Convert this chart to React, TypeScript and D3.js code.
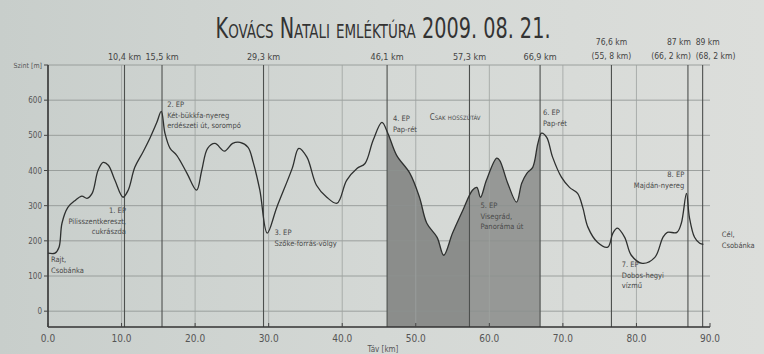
import React from 'react';
import * as d3 from 'd3';

// elevation profile (km, m)
const profileKm = [0, 0.95, 1.5, 1.9, 2.7, 3.7, 4.6, 5.3, 6.0, 6.8, 7.5, 8.2, 9.1, 10.2, 10.9, 11.8, 12.9, 13.9, 14.8, 15.4, 15.9, 16.6, 17.5, 18.9, 20.2, 20.9, 21.7, 22.7, 24.0, 25.1, 26.1, 27.2, 27.9, 28.8, 29.8, 31.1, 33.2, 34.1, 35.2, 36.5, 37.9, 39.3, 40.6, 42.0, 43.1, 44.2, 45.4, 46.2, 47.4, 49.2, 50.5, 51.5, 52.9, 53.8, 55.0, 56.4, 57.7, 58.3, 58.8, 59.6, 61.0, 61.4, 62.5, 63.7, 64.4, 65.1, 65.9, 66.6, 67.1, 67.8, 68.6, 69.8, 70.9, 72.0, 72.7, 73.4, 74.7, 76.1, 76.8, 77.4, 78.4, 79.3, 80.8, 82.5, 83.6, 84.2, 85.5, 86.1, 86.8, 87.2, 87.9, 88.6, 89.1];
const profileElev = [165, 165, 182, 250, 295, 315, 327, 321, 335, 400, 423, 415, 372, 324, 344, 409, 452, 494, 537, 568, 506, 463, 443, 392, 344, 400, 463, 477, 455, 477, 480, 466, 423, 344, 222, 295, 406, 463, 438, 358, 324, 307, 372, 406, 420, 486, 537, 506, 443, 392, 324, 250, 210, 159, 222, 287, 344, 352, 324, 372, 435, 429, 364, 310, 364, 392, 409, 477, 506, 494, 438, 381, 352, 335, 295, 239, 196, 182, 222, 236, 210, 159, 136, 153, 210, 224, 224, 250, 335, 267, 210, 193, 190];

const markerKm = [10.4, 15.5, 29.3, 46.1, 57.3, 66.9, 76.6, 87, 89];
const markerLabels = ['10,4 km', '15,5 km', '29,3 km', '46,1 km', '57,3 km', '66,9 km', '76,6 km', '87 km', '89 km'];
const markerSub = ['', '', '', '', '', '', '(55, 8 km)', '(66, 2 km)', '(68, 2 km)'];

const shortOnlyFrom = 46.1;
const shortOnlyMid = 57.3;
const shortOnlyTo = 66.9;

const yTicks = [0, 100, 200, 300, 400, 500, 600];
const gridY = [0, 100, 200, 300, 400, 500, 600, 700];
const xTicks = [0, 10, 20, 30, 40, 50, 60, 70, 80, 90];

const noteLines = [
  ['Rajt,', 'Csobánka'],
  ['1. EP', 'Pilisszentkereszt,', 'cukrászda'],
  ['2. EP', 'Két-bükkfa-nyereg', 'erdészeti út, sorompó'],
  ['3. EP', 'Szőke-forrás-völgy'],
  ['4. EP', 'Pap-rét'],
  ['5. EP', 'Visegrád,', 'Panoráma út'],
  ['6. EP', 'Pap-rét'],
  ['7. EP', 'Dobos-hegyi', 'vízmű'],
  ['8. EP', 'Majdán-nyereg'],
  ['Cél,', 'Csobánka'],
];
// where each note sits: [km, m, anchor]
const noteAt: [number, number, string][] = [
  [0.4, 139, 'start'],
  [10.6, 278, 'end'],
  [16.2, 580, 'start'],
  [30.8, 216, 'start'],
  [46.9, 540, 'start'],
  [58.8, 293, 'start'],
  [67.3, 557, 'start'],
  [78.0, 125, 'start'],
  [86.5, 381, 'end'],
  [91.6, 210, 'start'],
];

export default function App() {
  const W = 764, H = 354;
  const x = d3.scaleLinear().domain([0, 90]).range([48, 710]);
  const y = d3.scaleLinear().domain([-45, 700]).range([327, 65]);
  const pts = profileKm.map((k, i) => [k, profileElev[i]] as [number, number]);
  const line = d3.line<[number, number]>().x(d => x(d[0])).y(d => y(d[1])).curve(d3.curveCatmullRom.alpha(0.5));
  const area = d3.area<[number, number]>().x(d => x(d[0])).y0(y(-45)).y1(d => y(d[1])).curve(d3.curveCatmullRom.alpha(0.5));
  const font = '"DejaVu Sans Condensed", "Liberation Sans Narrow", sans-serif';
  const top = y(700), bot = y(-45);

  return (
    <svg width={W} height={H} style={{ position: 'absolute', left: 0, top: 0 }} fontFamily={font}>
      <defs>
        <linearGradient id="paper" x1="0" x2="1" y1="0" y2="0">
          <stop offset="0" stopColor="#c8cecb" />
          <stop offset="0.5" stopColor="#d4d8d5" />
          <stop offset="1" stopColor="#dcdedb" />
        </linearGradient>
        <clipPath id="c1"><rect x={x(shortOnlyFrom)} y={0} width={x(shortOnlyMid) - x(shortOnlyFrom)} height={H} /></clipPath>
        <clipPath id="c2"><rect x={x(shortOnlyMid)} y={0} width={x(shortOnlyTo) - x(shortOnlyMid)} height={H} /></clipPath>
      </defs>
      <rect width={W} height={H} fill="url(#paper)" />

      <g transform="translate(383,38) scale(1,1.4)">
        <text x={0} y={0} textAnchor="middle" fontSize={20} fill="#333" style={{ fontVariant: 'small-caps' }}
          textLength={335} lengthAdjust="spacingAndGlyphs">Kovács Natali emléktúra 2009. 08. 21.</text>
      </g>

      {/* shaded long-route section */}
      <path d={area(pts) || ''} fill="#8b8d8b" clipPath="url(#c1)" />
      <path d={area(pts) || ''} fill="#969896" clipPath="url(#c2)" />

      {/* grid */}
      {gridY.map(v => (
        <line key={'gy' + v} x1={x(0)} x2={x(90)} y1={y(v)} y2={y(v)} stroke="#8d928f" strokeWidth={0.8} />
      ))}
      {xTicks.slice(1, 9).map(v => (
        <line key={'gx' + v} x1={x(v)} x2={x(v)} y1={top} y2={bot} stroke="#9da29f" strokeWidth={0.8} />
      ))}
      {markerKm.map(k => (
        <line key={'m' + k} x1={x(k)} x2={x(k)} y1={top} y2={bot} stroke="#4d504e" strokeWidth={1.1} />
      ))}

      {/* marker labels */}
      {markerKm.map((k, i) => {
        const anchor = k === 87 ? 'end' : k === 89 ? 'start' : 'middle';
        const dx = k === 87 ? 3 : k === 89 ? -7 : 0;
        return markerSub[i] ? (
          <g key={'ml' + k} fontSize={8.5} fill="#444" textAnchor={anchor}>
            <text x={x(k) + dx} y={45}>{markerLabels[i]}</text>
            <text x={x(k) + dx} y={59}>{markerSub[i]}</text>
          </g>
        ) : (
          <text key={'ml' + k} x={x(k)} y={60} fontSize={9} fill="#444" textAnchor="middle">{markerLabels[i]}</text>
        );
      })}

      {/* profile */}
      <path d={line(pts) || ''} fill="none" stroke="#2e302f" strokeWidth={1.3} />

      {/* axes */}
      <line x1={x(0)} x2={x(0)} y1={top} y2={bot} stroke="#333" strokeWidth={1.6} />
      <line x1={x(0)} x2={x(90)} y1={bot} y2={bot} stroke="#333" strokeWidth={1.6} />
      {gridY.map(v => (
        <line key={'yt' + v} x1={x(0) - 4} x2={x(0)} y1={y(v)} y2={y(v)} stroke="#444" strokeWidth={1} />
      ))}
      {yTicks.map(v => (
        <text key={'yl' + v} x={x(0) - 6} y={y(v) + 3} fontSize={8} fill="#555" textAnchor="end">{v}</text>
      ))}
      <text x={x(0) - 6} y={top + 3} fontSize={7} fill="#555" textAnchor="end">Szint [m]</text>
      {xTicks.map(v => (
        <g key={'xt' + v}>
          <line x1={x(v)} x2={x(v)} y1={bot} y2={bot - 4} stroke="#444" />
          <text x={x(v)} y={342} fontSize={10} fill="#555" textAnchor="middle">{v.toFixed(1)}</text>
        </g>
      ))}
      <text x={383} y={352} fontSize={8} fill="#555" textAnchor="middle">Táv [km]</text>

      {/* notes */}
      {noteLines.map((lines, i) => {
        const [k, m, anchor] = noteAt[i];
        return (
          <text key={'n' + i} x={x(k)} y={y(m)} fontSize={7.5} fill="#4a4a4a" textAnchor={anchor}>
            {lines.map((l, j) => (
              <tspan key={j} x={x(k)} dy={j === 0 ? 0 : 10.5}>{l}</tspan>
            ))}
          </text>
        );
      })}
      <text x={x(51.9)} y={y(545)} fontSize={8} fill="#4a4a4a" style={{ fontVariant: 'small-caps' }}>Csak hosszútáv</text>
    </svg>
  );
}
